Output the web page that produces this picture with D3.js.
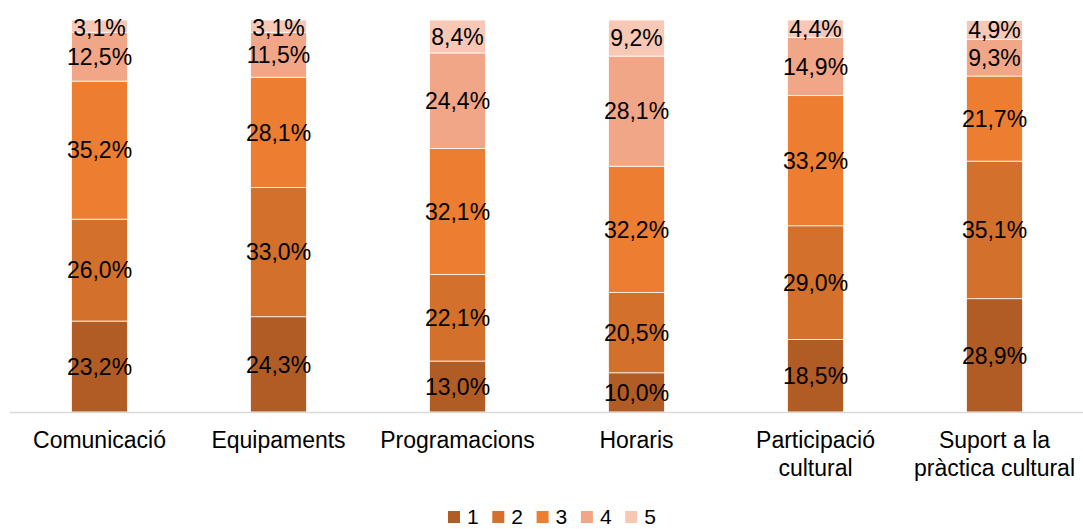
<!DOCTYPE html>
<html>
<head>
<meta charset="utf-8">
<script src="https://cdn.jsdelivr.net/npm/d3@7"></script>
<style>
  html, body { margin: 0; padding: 0; background: #fff; }
  svg { display: block; }
</style>
</head>
<body>
<svg id="chart"></svg>
<script>
const categories = ['Comunicació', 'Equipaments', 'Programacions', 'Horaris', 'Participació cultural', 'Suport a la pràctica cultural'];
const categoryLines = [['Comunicació'], ['Equipaments'], ['Programacions'], ['Horaris'], ['Participació', 'cultural'], ['Suport a la', 'pràctica cultural']];
const seriesKeys = ['1', '2', '3', '4', '5'];
const s1 = [23.2, 24.3, 13.0, 10.0, 18.5, 28.9];
const s2 = [26.0, 33.0, 22.1, 20.5, 29.0, 35.1];
const s3 = [35.2, 28.1, 32.1, 32.2, 33.2, 21.7];
const s4 = [12.5, 11.5, 24.4, 28.1, 14.9, 9.3];
const s5 = [3.1, 3.1, 8.4, 9.2, 4.4, 4.9];
const colors = ['#b05c24', '#d2702c', '#ed7d31', '#f2a688', '#f7c8b6'];

const width = 1083;
const height = 529;
const baseY = 412;
const topY = 20;
const font = 'Arial, "Liberation Sans", sans-serif';

const rows = categories.map((c, i) => ({ cat: c, '1': s1[i], '2': s2[i], '3': s3[i], '4': s4[i], '5': s5[i] }));
const stacked = d3.stack().keys(seriesKeys)(rows);

const svg = d3.select('#chart').attr('width', width).attr('height', height);

const x = d3.scaleBand().domain(categories).range([10, 1084]).paddingInner(0.687).paddingOuter(0.3435);
const y = d3.scaleLinear().domain([0, 100]).range([baseY, topY]);

// segments
const layers = svg.selectAll('.layer')
  .data(stacked)
  .enter()
  .append('g')
  .attr('class', 'layer')
  .attr('fill', (d, i) => colors[i]);

layers.selectAll('rect')
  .data((d) => d)
  .enter()
  .append('rect')
  .attr('x', (d) => x(d.data.cat))
  .attr('y', (d) => y(d[1]))
  .attr('width', x.bandwidth())
  .attr('height', (d) => y(d[0]) - y(d[1]))
  .attr('stroke', '#fff')
  .attr('stroke-width', 0.75);

// axis line
svg.append('line')
  .attr('x1', 10)
  .attr('x2', width)
  .attr('y1', baseY + 0.5)
  .attr('y2', baseY + 0.5)
  .attr('stroke', '#d9d9d9')
  .attr('stroke-width', 1.5);

// value labels (kept from running over the top of the plot)
layers.selectAll('text')
  .data((d) => d)
  .enter()
  .append('text')
  .attr('x', (d) => x(d.data.cat) + x.bandwidth() / 2)
  .attr('y', (d) => Math.max((y(d[0]) + y(d[1])) / 2, topY + 8))
  .attr('dy', '0.36em')
  .attr('text-anchor', 'middle')
  .attr('font-family', font)
  .attr('font-size', '23px')
  .attr('fill', '#000')
  .text((d) => (d[1] - d[0]).toFixed(1).replace('.', ',') + '%');

// category labels
const xl = svg.append('g');
categories.forEach((c, i) => {
  const t = xl.append('text')
    .attr('x', x(c) + x.bandwidth() / 2)
    .attr('y', 448)
    .attr('text-anchor', 'middle')
    .attr('font-family', font)
    .attr('font-size', '23px')
    .attr('fill', '#000');
  categoryLines[i].forEach((line, j) => {
    t.append('tspan')
      .attr('x', x(c) + x.bandwidth() / 2)
      .attr('dy', j === 0 ? 0 : 28)
      .text(line);
  });
});

// legend
const legend = svg.append('g').attr('transform', 'translate(448,511)');
seriesKeys.forEach((k, i) => {
  const g = legend.append('g').attr('transform', `translate(${i * 44.3},0)`);
  g.append('rect').attr('width', 12).attr('height', 12).attr('fill', colors[i]);
  g.append('text')
    .attr('x', 19)
    .attr('y', 13)
    .attr('font-family', font)
    .attr('font-size', '21px')
    .attr('fill', '#000')
    .text(k);
});
</script>
</body>
</html>
